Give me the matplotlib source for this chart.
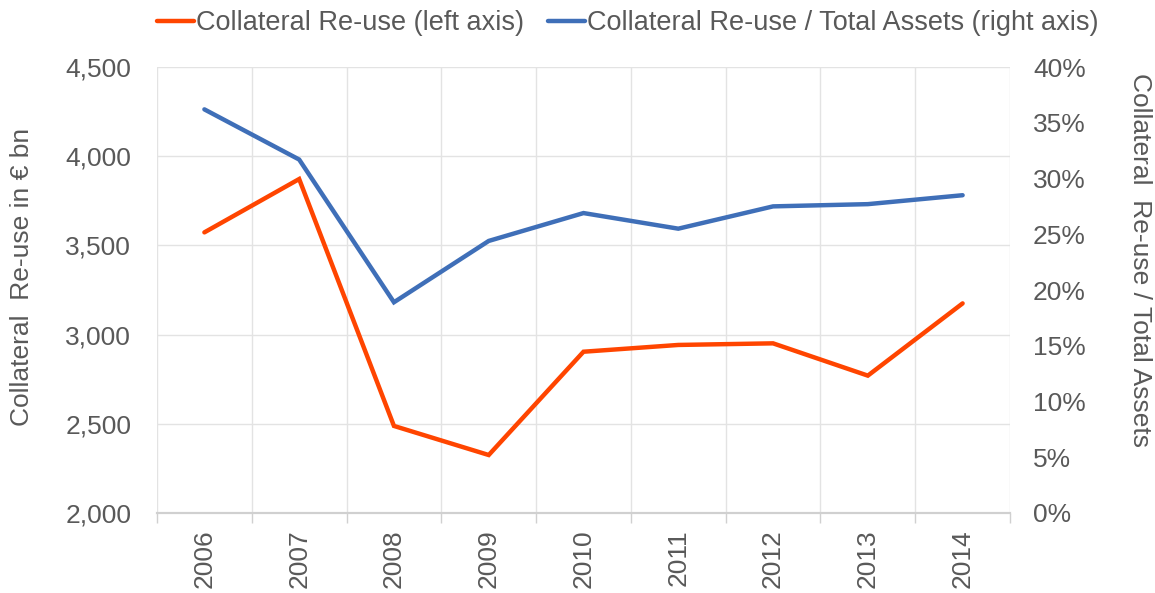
import matplotlib.pyplot as plt
import numpy as np
from matplotlib.ticker import FuncFormatter, FixedLocator

plt.rcParams['font.family'] = ['Liberation Sans', 'DejaVu Sans']

# 数据
years = ['2006', '2007', '2008', '2009', '2010', '2011', '2012', '2013', '2014']
reuse_bn = [3573, 3872, 2488, 2325, 2904, 2942, 2951, 2770, 3175]
reuse_ratio = [36.2, 31.7, 18.9, 24.4, 26.9, 25.5, 27.5, 27.7, 28.5]

orange = '#FF4500'
blue = '#3F6FB8'
grey_text = '#595959'
grid_c = '#E3E3E3'

fig = plt.figure(figsize=(11.55, 5.93), dpi=100)
ax = fig.add_axes([157 / 1155, 1 - 513 / 593, (1010 - 157) / 1155, (513 - 67) / 593])
ax2 = ax.twinx()

x = np.arange(len(years))
l1, = ax.plot(x, reuse_bn, color=orange, lw=3.2, solid_capstyle='round', solid_joinstyle='miter',
              label='Collateral Re-use (left axis)', zorder=3)
l2, = ax2.plot(x, reuse_ratio, color=blue, lw=3.2, solid_capstyle='round', solid_joinstyle='miter',
               label='Collateral Re-use / Total Assets (right axis)', zorder=3)

ax.set_xlim(-0.5, len(years) - 0.5)
ax.set_ylim(2000, 4500)
ax2.set_ylim(0, 40)
ax.set_yticks(np.arange(2000, 4501, 500))
ax2.set_yticks(np.arange(0, 41, 5))
ax.yaxis.set_major_formatter(FuncFormatter(lambda v, p: f'{int(v):,}'))
ax2.yaxis.set_major_formatter(FuncFormatter(lambda v, p: f'{int(v)}%'))

ax.set_xticks(x)
ax.set_xticklabels(years, rotation=90)
ax.xaxis.set_minor_locator(FixedLocator(np.arange(-0.5, len(years), 1)))
ax.tick_params(axis='x', which='major', length=0, pad=12, labelsize=19, labelcolor=grey_text)
ax.tick_params(axis='x', which='minor', length=7, color='#D0D0D0', width=1)
ax.tick_params(axis='y', length=0, pad=18.5, labelsize=19, labelcolor=grey_text)
ax2.tick_params(axis='y', length=0, pad=16.5, labelsize=19, labelcolor=grey_text)

# 网格
ax.grid(True, axis='y', which='major', color=grid_c, lw=1)
ax.grid(True, axis='x', which='minor', color=grid_c, lw=1)
ax.set_axisbelow(True)

for a in (ax, ax2):
    for s in ['top', 'left', 'right']:
        a.spines[s].set_visible(False)
    a.spines['bottom'].set_color('#D0D0D0')
    a.spines['bottom'].set_linewidth(1.5)

# 坐标轴标题
fig.text(22 / 1155, 1 - 277 / 593, 'Collateral  Re-use in € bn', fontsize=19, color=grey_text,
         rotation=90, ha='center', va='center')
fig.text(1140 / 1155, 1 - 260 / 593, 'Collateral  Re-use / Total Assets', fontsize=19,
         color=grey_text, rotation=270, ha='center', va='center')

fig.legend(handles=[l1, l2], loc='center', bbox_to_anchor=(628 / 1155, 1 - 23 / 593), ncol=2,
           frameon=False, fontsize=19.5, handlelength=1.35, handletextpad=0.08,
           columnspacing=0.9, labelcolor=grey_text, borderpad=0, borderaxespad=0)

plt.savefig('out.png', dpi=100)
